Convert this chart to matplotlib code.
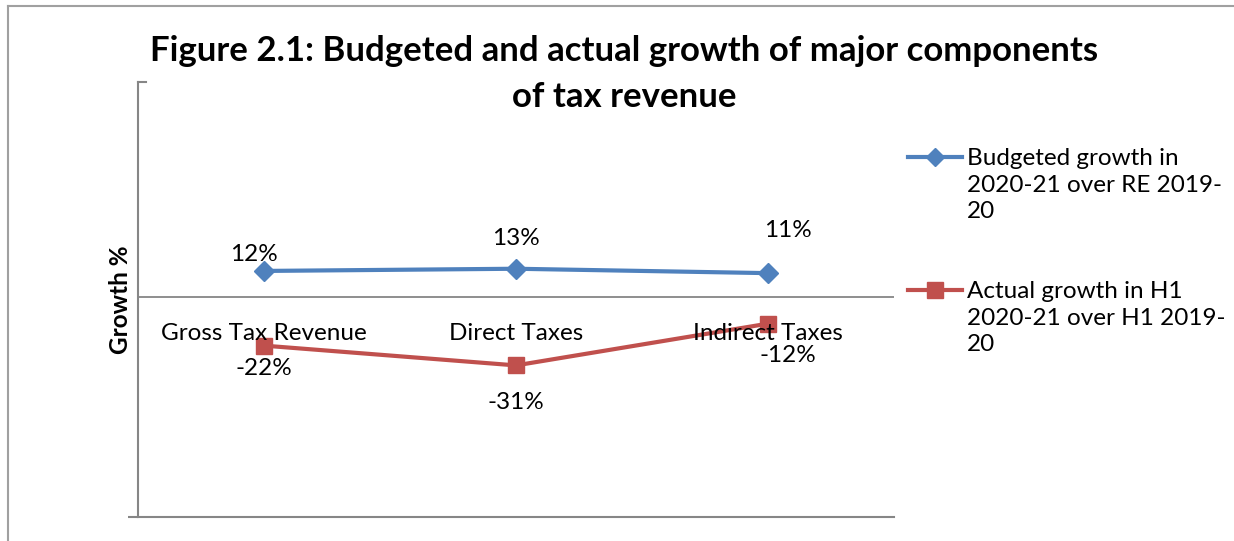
import matplotlib.pyplot as plt
from matplotlib.lines import Line2D

# data
categories = ['Gross Tax Revenue', 'Direct Taxes', 'Indirect Taxes']
budgeted = [12, 13, 11]
actual = [-22, -31, -12]
series_names = ['Budgeted growth in\n2020-21 over RE 2019-\n20',
                'Actual growth in H1\n2020-21 over H1 2019-\n20']

blue = '#4F81BD'
red = '#C0504D'
grey = '#868686'
fs = 17.5

plt.rcParams['font.family'] = ['Lato', 'DejaVu Sans']

fig = plt.figure(figsize=(12.34, 5.41), dpi=100)
ax = fig.add_axes([0.1118, 0.0444, 0.6126, 0.804])

x = [i + 0.5 for i in range(len(categories))]
ax.plot(x, budgeted, color=blue, lw=3, marker='D', ms=10, zorder=3)
ax.plot(x, actual, color=red, lw=3, marker='s', ms=12, zorder=3)

ax.set_xlim(0, 3)
ax.set_ylim(-100, 98)
ax.axhline(0, color=grey, lw=1.3, zorder=1)

for s in ['top', 'right']:
    ax.spines[s].set_visible(False)
for s in ['left', 'bottom']:
    ax.spines[s].set_color(grey)
    ax.spines[s].set_linewidth(1.5)
ax.set_xticks([])
ax.set_yticks([-100])
ax.set_yticklabels([])
ax.tick_params(axis='y', length=7, width=1.5, color=grey)
ax.plot([0, 0.01], [1, 1], transform=ax.transAxes, color=grey, lw=1.5, clip_on=False)

ax.set_ylabel('Growth %', fontsize=fs, fontweight='bold', labelpad=-6)

# category labels next to the zero line
for xi, c in zip(x, categories):
    ax.annotate(c, (xi, 0), xytext=(0, -36), textcoords='offset pixels',
                ha='center', va='center', fontsize=fs, zorder=4)

# data labels
b_off = [(-10, 16), (0, 30), (20, 43)]
a_off = [(0, -23), (0, -37), (20, -32)]
for xi, v, o in zip(x, budgeted, b_off):
    ax.annotate(f'{v}%', (xi, v), xytext=o, textcoords='offset pixels',
                ha='center', va='center', fontsize=fs)
for xi, v, o in zip(x, actual, a_off):
    ax.annotate(f'{v}%', (xi, v), xytext=o, textcoords='offset pixels',
                ha='center', va='center', fontsize=fs)

fig.suptitle('Figure 2.1: Budgeted and actual growth of major components\nof tax revenue',
             x=0.506, y=0.936, fontsize=25, fontweight='bold', linespacing=1.55)

# legend drawn by hand so the marker sits on the first line
W, H = 1234, 541
for col, mk, ms, ytop, name in [(blue, 'D', 9, 157, series_names[0]),
                                (red, 's', 11, 290, series_names[1])]:
    fig.add_artist(Line2D([908 / W, 962 / W], [1 - ytop / H] * 2, color=col, lw=3))
    fig.add_artist(Line2D([935 / W], [1 - ytop / H], color=col, marker=mk, ms=ms))
    fig.text(967 / W, 1 - (ytop - 9) / H, name, fontsize=fs, va='top', ha='left',
             linespacing=1.33)

# outer chart border
fig.add_artist(Line2D([8 / W, 1], [1 - 6 / H] * 2, color='#A0A0A0', lw=1.5))
fig.add_artist(Line2D([8 / W] * 2, [0, 1 - 6 / H], color='#A0A0A0', lw=1.5))

fig.savefig('out.png', dpi=100)
